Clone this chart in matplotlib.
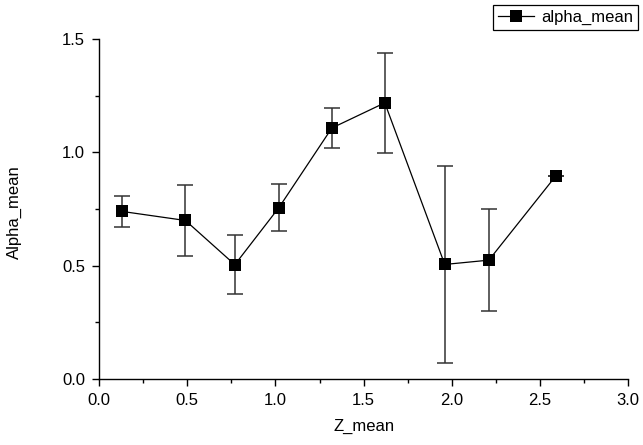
import matplotlib.pyplot as plt
from matplotlib.ticker import MultipleLocator

plt.rcParams['font.family'] = ['Liberation Sans', 'DejaVu Sans']

# data
z_mean = [0.13, 0.49, 0.77, 1.02, 1.32, 1.62, 1.96, 2.21, 2.59]
alpha_mean = [0.74, 0.70, 0.505, 0.757, 1.108, 1.219, 0.506, 0.525, 0.897]
alpha_err = [0.07, 0.155, 0.13, 0.105, 0.09, 0.22, 0.435, 0.225, 0.0]

fig = plt.figure(figsize=(6.43, 4.45), dpi=100)
ax = fig.add_axes([0.154, 0.148, 0.823, 0.764])

ax.errorbar(z_mean, alpha_mean, yerr=alpha_err, fmt='none', ecolor='#333333',
            elinewidth=1.1, capsize=5.5, capthick=1.1, zorder=2)
ax.plot(z_mean, alpha_mean, color='black', linewidth=0.9, marker='s',
        markersize=8.5, markeredgewidth=0, label='alpha_mean', zorder=3)

ax.set_xlim(0, 3.0)
ax.set_ylim(0, 1.5)
ax.xaxis.set_major_locator(MultipleLocator(0.5))
ax.xaxis.set_minor_locator(MultipleLocator(0.25))
ax.yaxis.set_major_locator(MultipleLocator(0.5))
ax.yaxis.set_minor_locator(MultipleLocator(0.25))
ax.xaxis.set_major_formatter('{x:.1f}')
ax.yaxis.set_major_formatter('{x:.1f}')

for side in ['top', 'right']:
    ax.spines[side].set_visible(False)
for side in ['left', 'bottom']:
    ax.spines[side].set_linewidth(1.0)

ax.tick_params(which='major', direction='out', length=5, width=1.0,
               labelsize=12, pad=5)
ax.tick_params(which='minor', direction='out', length=3, width=1.0)

ax.set_xlabel('Z_mean', fontsize=12, labelpad=8)
ax.set_ylabel('Alpha_mean', fontsize=12)
ax.yaxis.set_label_coords(-0.146, 0.49)

leg = fig.legend(loc='upper right', bbox_to_anchor=(638 / 643, 1 - 5 / 445),
                 fontsize=12, frameon=True, fancybox=False, framealpha=1,
                 edgecolor='black', borderpad=0.3, handlelength=2.2,
                 handletextpad=0.4, borderaxespad=0)
leg.get_frame().set_linewidth(0.9)

plt.savefig('out.png', dpi=100)
